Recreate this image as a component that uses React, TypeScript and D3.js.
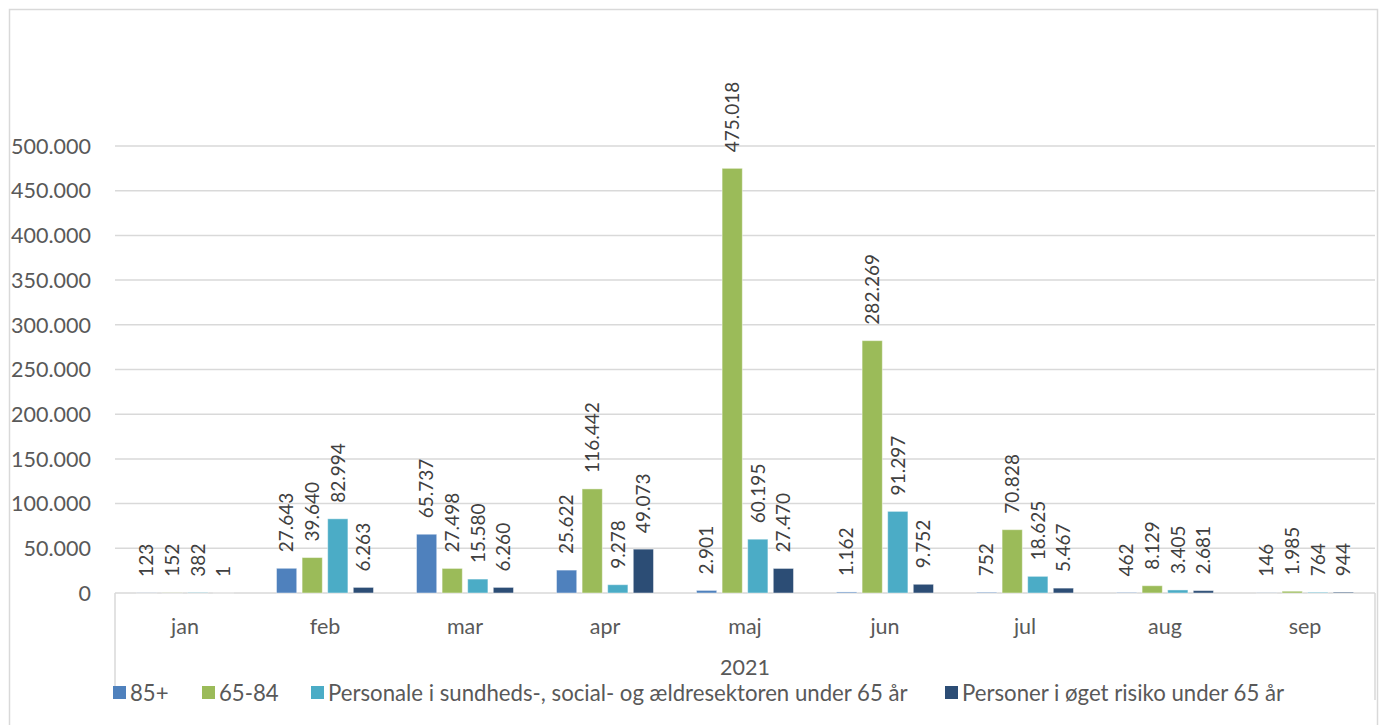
import React from "react";
import * as d3 from "d3";

const months = ["jan", "feb", "mar", "apr", "maj", "jun", "jul", "aug", "sep"];
const seriesNames = [
  "85+",
  "65-84",
  "Personale i sundheds-, social- og ældresektoren under 65 år",
  "Personer i øget risiko under 65 år",
];
const s85plus = [123, 27643, 65737, 25622, 2901, 1162, 752, 462, 146];
const s65to84 = [152, 39640, 27498, 116442, 475018, 282269, 70828, 8129, 1985];
const sPersonale = [382, 82994, 15580, 9278, 60195, 91297, 18625, 3405, 764];
const sRisiko = [1, 6263, 6260, 49073, 27470, 9752, 5467, 2681, 944];
const yTicks = [0, 50000, 100000, 150000, 200000, 250000, 300000, 350000, 400000, 450000, 500000];
const groupLabel = "2021";

const colors = ["#4f81bd", "#9bbb59", "#4bacc6", "#2c4d75"];
const allSeries = [s85plus, s65to84, sPersonale, sRisiko];

const fmt = (v: number) => d3.format(",")(v).replace(/,/g, ".");

export default function App() {
  const W = 1384, H = 725;
  const left = 115, right = 1375, top = 146, bottom = 593;
  const x = d3.scaleBand().domain(months).range([left, right]).paddingInner(0).paddingOuter(0);
  const inner = d3.scaleBand().domain(["0", "1", "2", "3"]).range([0, 97]).paddingInner(0.21);
  const y = d3.scaleLinear().domain([0, 500000]).range([bottom, top]);
  const font = "Lato, 'Open Sans', sans-serif";
  const bw = inner.bandwidth();
  const innerOffset = (x.bandwidth() - 97) / 2;

  const legendItems = [
    { x: 113, label: seriesNames[0] },
    { x: 202, label: seriesNames[1] },
    { x: 311, label: seriesNames[2] },
    { x: 945, label: seriesNames[3] },
  ];

  return (
    <svg width={W} height={H} style={{ position: "absolute", left: 0, top: 0, background: "#fff" }}>
      <rect x={9.5} y={9.5} width={1368} height={760} fill="none" stroke="#d9d9d9" strokeWidth={1.5} />
      {yTicks.map((t) => (
        <g key={t}>
          <line x1={left} x2={right} y1={y(t)} y2={y(t)} stroke="#d9d9d9" strokeWidth={1.5} />
          <text x={91} y={y(t)} dy="0.36em" textAnchor="end" fontFamily={font} fontSize={21.5} fill="#595959">
            {fmt(t)}
          </text>
        </g>
      ))}
      <line x1={left} x2={left} y1={bottom} y2={686} stroke="#d9d9d9" strokeWidth={1.5} />
      <line x1={right} x2={right} y1={bottom} y2={700} stroke="#d9d9d9" strokeWidth={1.5} />
      {months.map((m, i) => (
        <g key={m}>
          {allSeries.map((s, k) => {
            const bx = (x(m) as number) + innerOffset + (inner(String(k)) as number);
            const v = s[i];
            const yt = y(v);
            const cx = bx + bw / 2;
            return (
              <g key={k}>
                <rect x={bx} y={yt} width={bw} height={Math.max(0, bottom - yt)} fill={colors[k]} stroke="#ffffff" strokeOpacity={0.45} strokeWidth={1} />
                <text
                  transform={`translate(${cx},${yt - 16}) rotate(-90)`}
                  dy="0.36em"
                  textAnchor="start"
                  fontFamily={font}
                  fontSize={19}
                  fill="#404040"
                >
                  {fmt(v)}
                </text>
              </g>
            );
          })}
          <text x={(x(m) as number) + x.bandwidth() / 2} y={626} dy="0.36em" textAnchor="middle" fontFamily={font} fontSize={21.5} fill="#595959">
            {m}
          </text>
        </g>
      ))}
      <text x={(left + right) / 2} y={667} dy="0.36em" textAnchor="middle" fontFamily={font} fontSize={21.5} fill="#595959">
        {groupLabel}
      </text>
      {legendItems.map((l, k) => (
        <g key={k}>
          <rect x={l.x} y={686} width={13} height={13} fill={colors[k]} />
          <text x={l.x + 17} y={693} dy="0.36em" fontFamily={font} fontSize={22.2} fill="#595959">
            {l.label}
          </text>
        </g>
      ))}
    </svg>
  );
}
